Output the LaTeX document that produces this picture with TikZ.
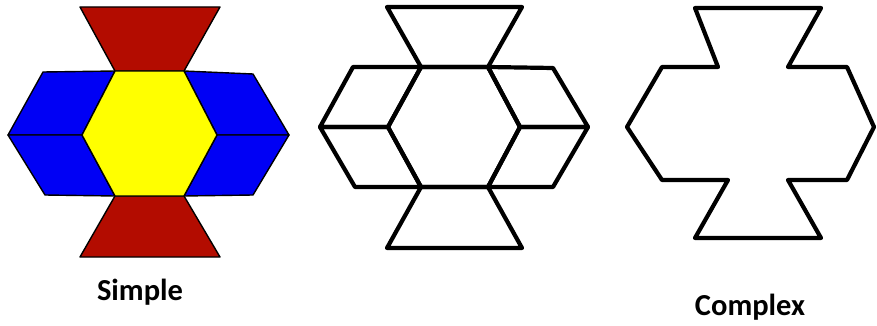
\documentclass[tikz,border=0pt]{standalone}
\usepackage{fontspec}
\newfontfamily\capfont{Carlito}
\usepackage{tikz}
\usetikzlibrary{positioning}
\definecolor{blockred}{HTML}{B30C00}
\definecolor{blockblue}{HTML}{0000F5}
\definecolor{blockyellow}{HTML}{FFFF00}

\begin{document}
\begin{tikzpicture}[x=1pt, y=-1pt,
  piece/.style={draw=black, line width=1.4pt, line join=round},
  trap/.style={piece, fill=blockred},
  rhomb/.style={piece, fill=blockblue},
  hexa/.style={piece, fill=blockyellow},
  outline/.style={draw=black, line width=4.2pt, line join=round},
  caption/.style={font=\capfont\bfseries\fontsize{30.5}{32}\selectfont, anchor=base}
]
\useasboundingbox (0,0) rectangle (877,326);
% simple, coloured blocks
\path[trap] (80,7) -- (220,7) -- (184,71) -- (115,71) -- cycle;
\path[trap] (115,196) -- (184,196) -- (220,257) -- (80,257) -- cycle;
\path[rhomb] (115,71) -- (43,72) -- (8,135) -- (82,135) -- cycle;
\path[rhomb] (82,135) -- (8,135) -- (45,195) -- (115,196) -- cycle;
\path[rhomb] (184,71) -- (253,74) -- (289,135) -- (217,135) -- cycle;
\path[rhomb] (217,135) -- (289,135) -- (253,195) -- (184,196) -- cycle;
\path[hexa] (115,71) -- (184,71) -- (217,135) -- (184,196) -- (115,196) -- (82,135) -- cycle;
% same blocks, outlines only
\draw[outline] (387,7) -- (522,7) -- (488,67) -- (421,67) -- cycle;
\draw[outline] (421,187) -- (488,187) -- (522,248) -- (387,248) -- cycle;
\draw[outline] (421,67) -- (353,67) -- (320,127) -- (388,127) -- cycle;
\draw[outline] (388,127) -- (320,127) -- (355,187) -- (421,187) -- cycle;
\draw[outline] (488,67) -- (553,68) -- (588,127) -- (520,127) -- cycle;
\draw[outline] (520,127) -- (588,127) -- (553,187) -- (488,187) -- cycle;
\draw[outline] (421,67) -- (488,67) -- (520,127) -- (488,187) -- (421,187) -- (388,127) -- cycle;
% complex, only the border
\draw[outline] (695,8) -- (718,67) -- (662,67) -- (627,127) -- (662,180) -- (728,180)
  -- (695,238) -- (821,238) -- (788,180) -- (847,180) -- (874,127) -- (847,67)
  -- (788,67) -- (821,8) -- cycle;
\node[caption] (simple) at (140,300) {Simple};
\node[caption] (complex) at (750,315) {Complex};
\end{tikzpicture}
\end{document}
